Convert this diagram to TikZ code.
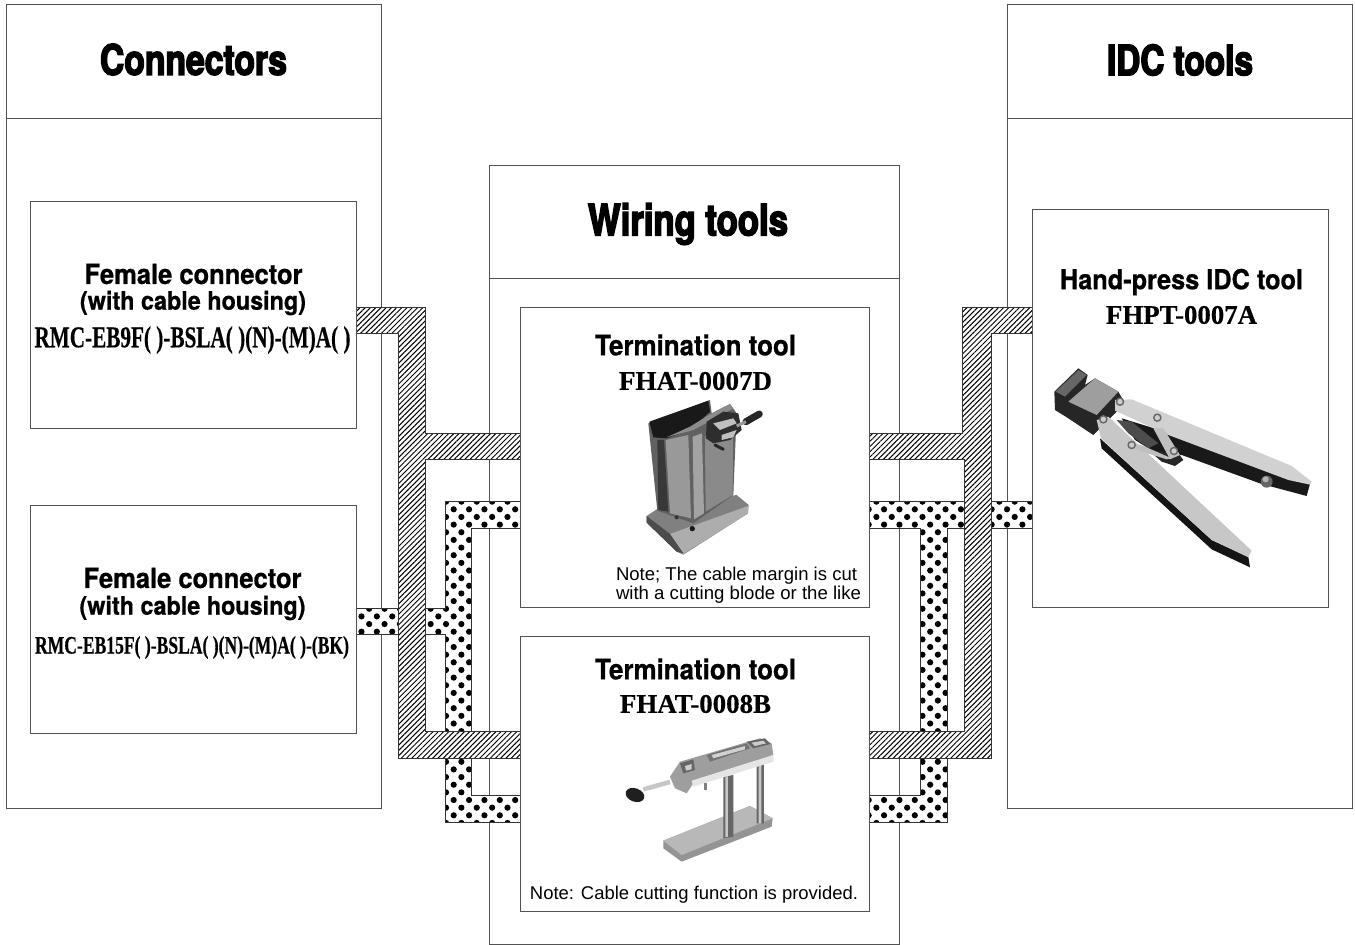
\documentclass[tikz,border=0pt]{standalone}
\usepackage{fontspec}
\usepackage{graphicx}
\usetikzlibrary{patterns.meta}
\setmainfont{Liberation Sans}
\newfontfamily\headf[FakeStretch=0.80,FakeBold=3.4]{TeX Gyre Heros Bold}
\newfontfamily\subf[FakeStretch=0.92,FakeBold=0.7]{TeX Gyre Heros Bold}
\newfontfamily\serf[FakeStretch=1.0,FakeBold=0.4]{Liberation Serif Bold}
\newfontfamily\rmcf[FakeStretch=0.70,FakeBold=0.4]{Liberation Serif Bold}
\newfontfamily\notef{Liberation Sans}
\newcommand{\fitw}[2]{\resizebox{#1pt}{!}{#2}}
\tikzset{
  boxedge/.style={draw=black!68,line width=1pt,inner sep=0pt},
  lbl/.style={inner sep=0pt,outer sep=0pt,anchor=center,text=black},
  hatchband/.style={draw=black!80,line width=.9pt,preaction={fill=white},pattern={Lines[angle=45,distance=3.7pt,line width=1pt]}},
  dotedge/.style={draw=black!80,line width=.9pt},
}
\newcommand{\dotrows}[4]{% ix from, ix to, iy from, iy to: lattice anchored at (453.7,509.3)
 \foreach \ix in {#1,...,#2} {\foreach \iy in {#3,...,#4} {
   \fill[black] (453.7+15.37*\ix+7.685*\iy,509.3+7.65*\iy) circle (3.1);}}
}
\begin{document}
\begin{tikzpicture}[x=1pt,y=-1pt]
\useasboundingbox (0,0) rectangle (1355,945);
\fill[white] (0,0) rectangle (1355,945);
\newcommand{\rbox}[6][boxedge]{\node[#1,fill=white,minimum width=#4pt-#2pt,minimum height=#5pt-#3pt,anchor=north west] (#6) at (#2,#3) {};}
\rbox{6}{4}{381}{118}{connhead}
\rbox{6}{118}{381}{808}{connbody}
\rbox{1007}{4}{1352}{118}{idchead}
\rbox{1007}{118}{1352}{808}{idcbody}
\rbox{489}{165}{899}{278}{wirehead}
\rbox{489}{278}{899}{944}{wirebody}
% dotted bands
\def\dotL{(356,608)--(445,608)--(445,501)--(520,501)--(520,528)--(471,528)--(471,795.5)--(520,795.5)--(520,822)--(445,822)--(445,634)--(356,634)--cycle}
\def\dotR{(868,501)--(1032,501)--(1032,528)--(947,528)--(947,822)--(868,822)--(868,795.5)--(920,795.5)--(920,528)--(868,528)--cycle}
\fill[white] \dotL; \fill[white] \dotR;
\begin{scope}\clip \dotL; \dotrows{-28}{5}{-2}{42}\end{scope}
\begin{scope}\clip \dotR; \dotrows{6}{38}{-2}{42}\end{scope}
\draw[dotedge] \dotL; \draw[dotedge] \dotR;
\draw[hatchband] (356,307)--(425,307)--(425,433)--(520,433)--(520,459)--(425,459)--(425,731)--(520,731)--(520,758)--(398,758)--(398,333)--(356,333)--cycle;
\draw[hatchband] (868,433)--(962,433)--(962,307)--(1032,307)--(1032,333)--(991,333)--(991,758)--(868,758)--(868,731)--(964,731)--(964,459)--(868,459)--cycle;
% inner boxes
\rbox{30}{201}{356}{428}{fem1}
\rbox{30}{505}{356}{733}{fem2}
\rbox{520}{307}{869}{607}{term1}
\rbox{520}{636}{869}{911}{term2}
\rbox{1032}{209}{1328}{607}{hand}
% headings
\node[lbl] (t1) at (193.5,59.5) {\fitw{187}{\headf\fontsize{36}{36}\selectfont Connectors}};
\node[lbl] (t2) at (688,224) {\fitw{200}{\headf\fontsize{36}{36}\selectfont Wiring tools}};
\node[lbl] (t3) at (1180,60) {\fitw{146}{\headf\fontsize{36}{36}\selectfont IDC tools}};
% texts
\node[lbl] (f1a) at (193.5,274) {\fitw{218}{\subf\fontsize{26}{26}\selectfont Female connector}};
\node[lbl] (f1b) at (193,303) {\fitw{226}{\subf\fontsize{23}{23}\selectfont (with cable housing)}};
\node[lbl] (f1c) at (192.5,340) {\fitw{316}{\rmcf\fontsize{22}{22}\selectfont RMC-EB9F( )-BSLA( )(N)-(M)A( )}};
\node[lbl] (f2a) at (192.5,578) {\fitw{218}{\subf\fontsize{26}{26}\selectfont Female connector}};
\node[lbl] (f2b) at (192.5,608) {\fitw{226}{\subf\fontsize{23}{23}\selectfont (with cable housing)}};
\node[lbl] (f2c) at (192,647.5) {\fitw{314}{\rmcf\fontsize{20}{20}\selectfont RMC-EB15F( )-BSLA( )(N)-(M)A( )-(BK)}};
\node[lbl] (a1) at (695.5,345) {\fitw{201}{\subf\fontsize{26}{26}\selectfont Termination tool}};
\node[lbl] (a2) at (695.5,381) {\fitw{153}{\serf\fontsize{26}{26}\selectfont FHAT-0007D}};
\node[lbl] (b1) at (695.5,669) {\fitw{201}{\subf\fontsize{26}{26}\selectfont Termination tool}};
\node[lbl] (b2) at (695.5,704) {\fitw{151}{\serf\fontsize{26}{26}\selectfont FHAT-0008B}};
\node[lbl] (c1) at (1181.5,282) {\fitw{243}{\subf\fontsize{26}{26}\selectfont Hand-press IDC tool}};
\node[lbl] (c2) at (1181.5,315) {\fitw{151}{\serf\fontsize{26}{26}\selectfont FHPT-0007A}};
\node[lbl,anchor=west] (n1) at (616,576) {\fitw{241}{\notef\fontsize{17}{17}\selectfont Note; The cable margin is cut}};
\node[lbl,anchor=west] (n2) at (616,595) {\fitw{245}{\notef\fontsize{17}{17}\selectfont with a cutting blode or the like}};
\node[lbl] (n3) at (694,895) {\fitw{328}{\notef\fontsize{17}{17}\selectfont Note: Cable cutting function is provided.}};
% photo 1
\begin{scope}[shift={(520,380)},x=.3333pt,y=-.3333pt]
 \fill[black!50] (380,408)--(410,388)--(650,345)--(686,375)--(684,400)--(490,524)--(470,515)--(380,428)--cycle;
 \fill[black!32] (450,462)--(684,378)--(684,400)--(490,522)--cycle;
 \fill[black!70] (380,408)--(450,462)--(490,520)--(470,515)--(380,428)--cycle;
 \fill[black!62] (385,130)--(570,60)--(575,100)--(630,72)--(650,100)--(640,345)--(520,430)--(412,392)--cycle;
 \fill[black!40] (437,180)--(505,165)--(513,415)--(450,400)--cycle;
 \fill[black!46] (555,170)--(640,130)--(638,345)--(557,395)--cycle;
 \fill[black!36] (518,170)--(546,160)--(552,400)--(522,418)--cycle;
 \fill[black!78] (412,180)--(432,180)--(445,395)--(415,390)--cycle;
 \fill[black!90] (388,125)--(565,62)--(570,95)--(510,150)--(440,175)--(400,172)--cycle;
 \fill[black!45] (440,172)--(520,150)--(640,85)--(630,72)--(575,100)--(510,140)--cycle;
 \fill[black!82] (560,125)--(610,95)--(655,100)--(665,150)--(630,180)--(580,190)--(558,175)--cycle;
 \fill[black!25] (580,130)--(640,115)--(650,130)--(600,150)--cycle;
 \fill[black!25] (605,165)--(650,150)--(640,172)--(605,180)--cycle;
 \draw[black!85,line width=7pt,line cap=round] (678,125)--(718,102);
 \draw[black!40,line width=3pt] (650,138)--(678,125);
 \draw[black!85,line width=3pt,line cap=round] (585,195)--(610,208);
 \fill[black!90] (517,446) circle (8);
 \fill[black!80] (470,412) circle (6);
\end{scope}
% photo 2
\begin{scope}[shift={(1035,340)},x=.3333pt,y=-.3333pt]
 \fill[black!85] (58,155)--(130,85)--(158,105)--(150,135)--(180,115)--(250,155)--(270,190)--(175,285)--(100,235)--(60,210)--cycle;
 \fill[black!60] (62,155)--(130,90)--(155,105)--(90,170)--cycle;
 \fill[black!38] (100,185)--(180,115)--(250,155)--(185,225)--cycle;
 \fill[black!90] (260,235)--(400,278)--(825,432)--(815,468)--(680,432)--(440,345)--(380,350)--(300,300)--cycle;
 \fill[black!18] (240,180)--(290,178)--(770,378)--(830,425)--(825,434)--(760,420)--(400,285)--(240,212)--cycle;
 \fill[black!70] (245,240)--(290,245)--(370,310)--(340,325)--(280,280)--cycle;
 \fill[black!92] (195,295)--(530,600)--(640,650)--(645,682)--(530,628)--(200,325)--cycle;
 \fill[black!22] (185,240)--(220,230)--(650,632)--(640,652)--(530,600)--(198,295)--cycle;
 \fill[black!85] (340,330)--(430,340)--(445,360)--(420,378)--(380,365)--cycle;
 \fill[black!25] (355,265)--(385,265)--(435,345)--(405,358)--cycle;
 \fill[black!25] (300,310)--(330,320)--(410,355)--(395,358)--(305,330)--cycle;
 \foreach \p in {(255,185),(205,238),(367,233),(290,315),(417,333)} {\fill[black!60] \p circle (13); \fill[black!20] \p circle (8);}
 \fill[black!60] (695,425) circle (18);
 \fill[black!30] (692,418) circle (9);
\end{scope}
% photo 3
\begin{scope}[shift={(580,720)},x=.3333pt,y=-.3333pt]
 \fill[black!42] (250,362)--(510,258)--(578,295)--(575,320)--(305,425)--(250,385)--cycle;
 \fill[black!28] (250,362)--(510,258)--(578,295)--(305,405)--cycle;
 \fill[black!60] (430,170)--(460,165)--(460,350)--(430,355)--cycle;
 \fill[black!22] (436,170)--(444,168)--(444,350)--(436,352)--cycle;
 \fill[black!60] (530,135)--(552,130)--(552,310)--(530,310)--cycle;
 \fill[black!22] (536,135)--(544,132)--(544,310)--(536,310)--cycle;
 \fill[black!38] (270,170)--(300,125)--(540,55)--(575,70)--(580,105)--(340,190)--(320,220)--(285,205)--cycle;
 \fill[black!10] (335,182)--(580,105)--(580,125)--(340,200)--cycle;
 \fill[black!60] (300,130)--(340,118)--(345,150)--(310,160)--cycle;
 \fill[black!20] (315,138)--(335,132)--(335,148)--(318,152)--cycle;
 \fill[black!55] (380,105)--(500,70)--(510,85)--(390,125)--cycle;
 \fill[black!18] (395,105)--(495,78)--(495,88)--(400,115)--cycle;
 \fill[black!60] (500,65)--(555,55)--(572,72)--(520,85)--cycle;
 \fill[black!20] (515,68)--(550,62)--(558,70)--(525,78)--cycle;
 \draw[black!22,line width=4.5pt] (190,208)--(270,186);
 \fill[black!88,rotate around={-20:(165,225)}] (165,225) ellipse (29 and 20);
 \fill[black!50] (372,190) rectangle (380,210);
\end{scope}
\end{tikzpicture}
\end{document}
